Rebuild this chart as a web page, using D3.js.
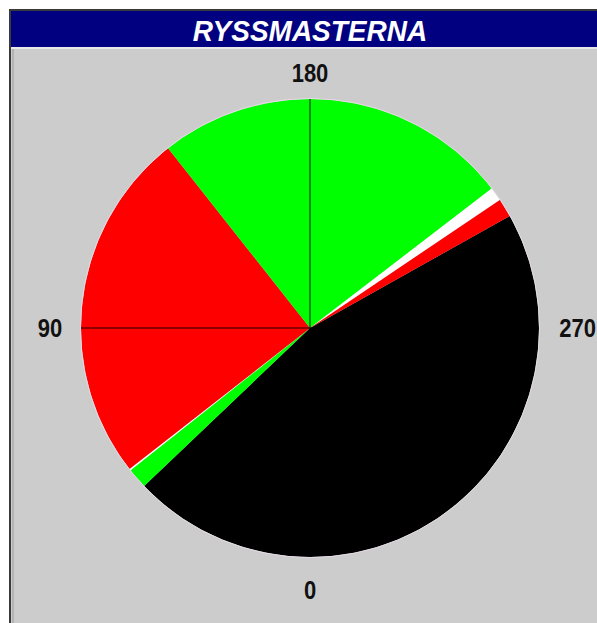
<!DOCTYPE html>
<html>
<head>
<meta charset="utf-8">
<script src="https://cdn.jsdelivr.net/npm/d3@7"></script>
<style>
  html, body { margin: 0; padding: 0; background: #ffffff; }
  svg { display: block; }
</style>
</head>
<body>
<script>
// ---- data ----
const chartTitle = "RYSSMASTERNA";
// slice sizes in degrees, in drawing order (clockwise from the start angle)
const sliceValues = [165.7, 5.2, 0.4, 89.7, 90.8, 3.5, 4.7];
const sliceColors = ["#000000", "#00ff00", "#ffffff", "#ff0000", "#00ff00", "#ffffff", "#ff0000"];
const sliceStartDeg = 240.7;             // where the first slice begins on the dial
const dialTicks = [0, 90, 180, 270];
const dialLabels = ["0", "90", "180", "270"];

// ---- layout ----
const W = 597, H = 623;
const cx = 310, cy = 328, R = 229, labelR = 260;

const svg = d3.select("body").append("svg").attr("width", W).attr("height", H);

// panel
svg.append("rect").attr("x", 10).attr("y", 10).attr("width", W + 20).attr("height", H + 20)
  .attr("fill", "#cccccc").attr("stroke", "#3a3a3a").attr("stroke-width", 2);
svg.append("line").attr("x1", 13).attr("x2", 13).attr("y1", 48).attr("y2", H)
  .attr("stroke", "#9a9a9a").attr("stroke-width", 1);
svg.append("rect").attr("x", 11).attr("y", 11).attr("width", W).attr("height", 36)
  .attr("fill", "#000080");
svg.append("line").attr("x1", 11).attr("x2", W).attr("y1", 48).attr("y2", 48)
  .attr("stroke", "#e8e8e8").attr("stroke-width", 2);
svg.append("text").attr("transform", `translate(${cx},41) scale(1,1.08)`)
  .attr("text-anchor", "middle")
  .attr("font-family", "Liberation Sans, Arial, sans-serif").attr("font-weight", "bold")
  .attr("font-style", "italic").attr("font-size", 28).attr("fill", "#ffffff")
  .text(chartTitle);

// dial angle scale: 0 at bottom, increasing clockwise (bottom -> left -> top -> right)
const angle = d3.scaleLinear().domain([0, 360]).range([Math.PI, 3 * Math.PI]);

const pie = d3.pie().sort(null).value(d => d)
  .startAngle(angle(sliceStartDeg)).endAngle(angle(sliceStartDeg + 360));
const arc = d3.arc().innerRadius(0).outerRadius(R);

const g = svg.append("g").attr("transform", `translate(${cx},${cy})`);
g.selectAll("path.slice").data(pie(sliceValues)).join("path")
  .attr("class", "slice")
  .attr("d", arc)
  .attr("fill", (d, i) => sliceColors[i]);

// outer edge highlight
g.append("circle").attr("r", R + 0.5).attr("fill", "none")
  .attr("stroke", "#e6dce6").attr("stroke-width", 1);

// dial spokes
g.selectAll("line.spoke").data(dialTicks).join("line")
  .attr("class", "spoke")
  .attr("x1", 0).attr("y1", 0)
  .attr("x2", d => R * Math.sin(angle(d)))
  .attr("y2", d => -R * Math.cos(angle(d)))
  .attr("stroke", "#000000").attr("stroke-opacity", 0.45).attr("stroke-width", 2);

// dial labels
const labOffset = { 0: [0, 2], 90: [0, 0], 180: [0, 5], 270: [0, 0] };
g.selectAll("text.lab").data(dialTicks).join("text")
  .attr("class", "lab")
  .attr("transform", d => {
    const x = labelR * Math.sin(angle(d)) + labOffset[d][0];
    const y = -labelR * Math.cos(angle(d)) + labOffset[d][1];
    return `translate(${x},${y}) scale(1,1.18)`;
  })
  .attr("x", d => d === 270 ? 0 : 0)
  .attr("dy", "0.36em")
  .attr("text-anchor", d => d === 270 ? "end" : "middle")
  .attr("dx", d => d === 270 ? (W - cx - labelR * Math.sin(angle(270)) - 1) : 0)
  .attr("font-family", "Liberation Sans, Arial, sans-serif").attr("font-weight", "bold")
  .attr("font-size", 22).attr("fill", "#111111")
  .text((d, i) => dialLabels[i]);
</script>
</body>
</html>
